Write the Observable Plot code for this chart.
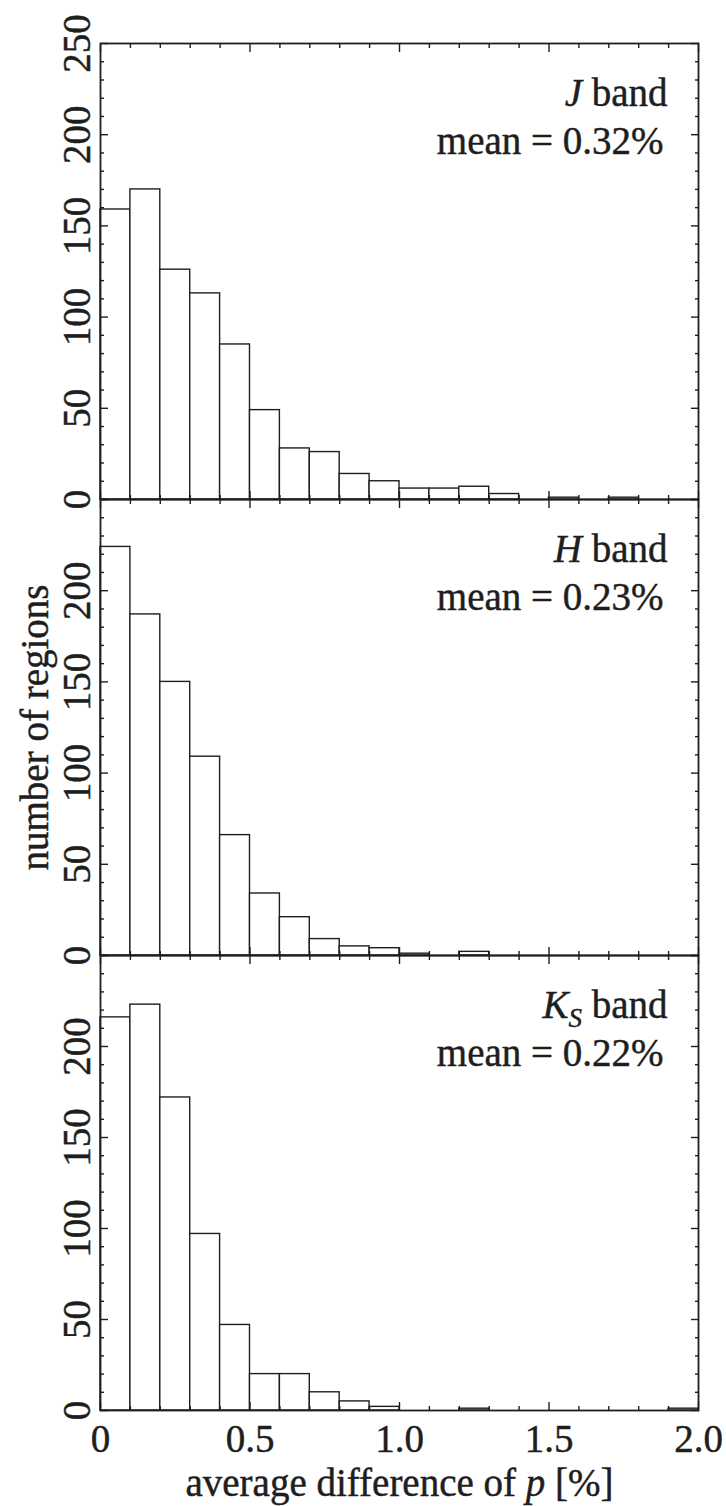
<!DOCTYPE html>
<html>
<head>
<meta charset="utf-8">
<script src="https://cdn.jsdelivr.net/npm/d3@7"></script>
<script src="https://cdn.jsdelivr.net/npm/@observablehq/plot@0.6"></script>
<style>
  body { margin: 0; background: #fff; }
  #chart { position: relative; width: 726px; height: 1506px; overflow: hidden; background: #fff; font-family: "Liberation Serif", serif; }
  #chart svg { position: absolute; left: 0; overflow: visible; font-family: "Liberation Serif", serif !important; }
  #chart svg text, #chart svg tspan, #chart svg g { font-family: "Liberation Serif", serif !important; }
</style>
</head>
<body>
<div id="chart"></div>
<script>
// ---- data ----
const binStart = [0.0, 0.1, 0.2, 0.3, 0.4, 0.5, 0.6, 0.7, 0.8, 0.9, 1.0, 1.1, 1.2, 1.3, 1.4, 1.5, 1.6, 1.7, 1.8, 1.9];
const binEnd   = [0.1, 0.2, 0.3, 0.4, 0.5, 0.6, 0.7, 0.8, 0.9, 1.0, 1.1, 1.2, 1.3, 1.4, 1.5, 1.6, 1.7, 1.8, 1.9, 2.0];
const countJ  = [159, 170, 126, 113, 85, 49, 28, 26, 14, 10, 6, 6, 7, 3, 0, 1, 0, 1, 0, 0];
const countH  = [224, 187, 150, 109, 66, 34, 21, 9, 5, 4, 1, 0, 2, 0, 0, 0, 0, 0, 0, 0];
const countKs = [216, 223, 172, 97, 47, 20, 20, 10, 5, 2, 0, 0, 1, 0, 0, 0, 0, 0, 0, 1];
const bandNames = ["J", "H", "K"];
const bandSubs = ["", "", "S"];
const meanLabels = ["mean = 0.32%", "mean = 0.23%", "mean = 0.22%"];
const xMajorTicks = [0, 0.5, 1.0, 1.5, 2.0];
const xTickLabels = ["0", "0.5", "1.0", "1.5", "2.0"];
const xMinorTicks = [0.1, 0.2, 0.3, 0.4, 0.6, 0.7, 0.8, 0.9, 1.1, 1.2, 1.3, 1.4, 1.6, 1.7, 1.8, 1.9];
const yMajorTicks = [0, 50, 100, 150, 200, 250];
const yMinorTicks = [10, 20, 30, 40, 60, 70, 80, 90, 110, 120, 130, 140, 160, 170, 180, 190, 210, 220, 230, 240];
const yLabelTicksTop = [0, 50, 100, 150, 200, 250];
const yLabelTicksLower = [0, 50, 100, 150, 200];
const xTitle = "average difference of p [%]";
const yTitle = "number of regions";

// ---- layout ----
const allCounts = [countJ, countH, countKs];
const panelTops = [43, 499, 955];
const panelHeights = [456, 456, 455];
const ink = "#1e1e1e";
const FONT = "Liberation Serif";
const FS = 39;

const chart = document.getElementById("chart");

function tickAxes() {
  const common = {fill: "none", label: null, stroke: ink, strokeWidth: 1.4};
  return [
    Plot.axisX(xMajorTicks, {anchor: "bottom", tickSize: -8, ...common}),
    Plot.axisX(xMinorTicks, {anchor: "bottom", tickSize: -4, ...common}),
    Plot.axisX(xMajorTicks, {anchor: "top", tickSize: -8, ...common}),
    Plot.axisX(xMinorTicks, {anchor: "top", tickSize: -4, ...common}),
    Plot.axisY(yMajorTicks, {anchor: "left", tickSize: -8, ...common}),
    Plot.axisY(yMinorTicks, {anchor: "left", tickSize: -4, ...common}),
    Plot.axisY(yMajorTicks, {anchor: "right", tickSize: -8, ...common}),
    Plot.axisY(yMinorTicks, {anchor: "right", tickSize: -4, ...common})
  ];
}

for (let i = 0; i < 3; i++) {
  const counts = allCounts[i];
  const data = binStart.map((x0, k) => ({x0, x1: binEnd[k], n: counts[k]}));
  const mt = 40, mb = i === 2 ? 96 : 40;
  const h = panelHeights[i];
  const marks = [
    Plot.rect(data, {x1: "x0", x2: "x1", y1: 0, y2: "n", fill: "white", stroke: ink, strokeWidth: 1.4}),
    Plot.frame({stroke: ink, strokeWidth: 1.8}),
    ...tickAxes(),
    Plot.axisY(i === 0 ? yLabelTicksTop : yLabelTicksLower, {
      anchor: "left", tickSize: 0, tickPadding: 11, tickRotate: -90,
      fontSize: FS, fill: ink,
      tickFormat: d => String(d),
      label: i === 1 ? yTitle : null,
      labelAnchor: "center", labelOffset: 80, labelArrow: "none"
    }),
    Plot.text([bandNames[i]], {frameAnchor: "top-right", text: d => d + bandSubs[i] + " band",
      dx: -31, dy: 62, textAnchor: "end", lineAnchor: "bottom", fontSize: FS, fill: ink}),
    Plot.text([meanLabels[i]], {frameAnchor: "top-right", text: d => d,
      dx: -35, dy: 110, textAnchor: "end", lineAnchor: "bottom", fontSize: FS, fill: ink})
  ];
  if (i === 2) {
    marks.push(Plot.axisX(xMajorTicks, {
      anchor: "bottom", tickSize: 0, tickPadding: 14, fontSize: FS, fill: ink,
      tickFormat: d => xTickLabels[xMajorTicks.indexOf(d)],
      label: xTitle, labelAnchor: "center", labelOffset: 85, labelArrow: "none"
    }));
  }
  const svg = Plot.plot({
    width: 726,
    height: mt + h + mb,
    marginLeft: 100, marginRight: 28, marginTop: mt, marginBottom: mb,
    x: {domain: [0, 2], label: null},
    y: {domain: [0, 250], label: null},
    style: {background: "transparent", overflow: "visible", color: ink},
    marks
  });
  svg.style.top = (panelTops[i] - mt) + "px";
  svg.style.fontFamily = FONT;
  chart.appendChild(svg);

  // rich text: italics and subscripts; serif font with slightly heavier ink
  const NS = "http://www.w3.org/2000/svg";
  svg.querySelectorAll("g").forEach(g => { if (g.hasAttribute("font-family")) g.setAttribute("font-family", FONT); });
  svg.querySelectorAll("text").forEach(t => {
    t.setAttribute("font-family", FONT);
    t.setAttribute("stroke", ink);
    t.setAttribute("stroke-width", "0.45");
    const s = t.textContent;
    const name = bandNames[i];
    if (s === name + bandSubs[i] + " band") {
      t.textContent = "";
      const a = document.createElementNS(NS, "tspan");
      a.setAttribute("font-style", "italic"); a.textContent = name; t.appendChild(a);
      if (bandSubs[i]) {
        const b = document.createElementNS(NS, "tspan");
        b.setAttribute("font-style", "italic"); b.setAttribute("font-size", "27");
        b.setAttribute("dy", "9"); b.textContent = bandSubs[i]; t.appendChild(b);
        const c = document.createElementNS(NS, "tspan");
        c.setAttribute("dy", "-9"); c.textContent = " band"; t.appendChild(c);
      } else {
        const c = document.createElementNS(NS, "tspan");
        c.textContent = " band"; t.appendChild(c);
      }
    } else if (s === xTitle) {
      t.textContent = "";
      const parts = xTitle.split(" p ");
      const a = document.createElementNS(NS, "tspan"); a.textContent = parts[0] + " "; t.appendChild(a);
      const b = document.createElementNS(NS, "tspan"); b.setAttribute("font-style", "italic"); b.textContent = "p"; t.appendChild(b);
      const c = document.createElementNS(NS, "tspan"); c.textContent = " " + parts[1]; t.appendChild(c);
    }
  });
}
</script>
</body>
</html>
